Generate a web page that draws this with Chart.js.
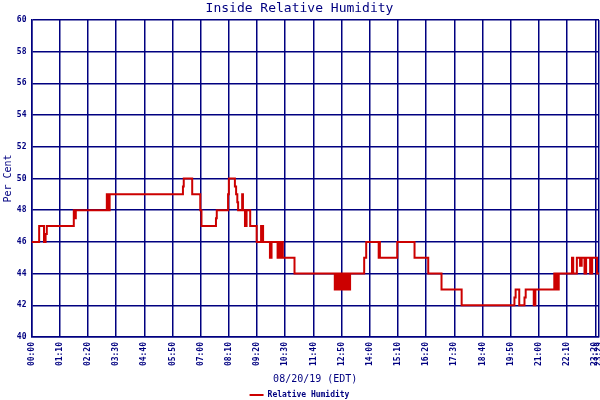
<!DOCTYPE html>
<html><head><meta charset="utf-8">
<script src="https://cdn.jsdelivr.net/npm/chart.js@4/dist/chart.umd.min.js"></script>
<style>html,body{margin:0;padding:0;background:#fff;}canvas{display:block;}</style>
</head><body>
<canvas id="c" width="600" height="400"></canvas>
<script>
// minutes after midnight where the reading changes
const times = [0,19,31,35,38,105,108,110,187,189,191,192,194,376,378,399,419,422,458,460,488,490,505,508,511,513,523,525,530,532,533,534,543,559,570,575,592,594,595,596,611,614,619,621,624,653,753,756,760,763,766,767,771,773,774,776,777,780,783,786,788,791,826,831,862,864,865,908,951,985,1018,1068,1199,1202,1211,1224,1227,1247,1249,1250,1251,1298,1302,1304,1306,1309,1342,1345,1354,1362,1366,1373,1377,1387,1392,1404,1409];
const humidity = [46,47,46,46.5,47,48,47.5,48,49,48,49,48,49,49.5,50,49,48,47,47.5,48,49,50,49.5,49,48.5,48,49,48,47,48,47,48,47,46,47,46,45,46,45,46,45,46,45,46,45,44,43,44,43,44,43,44,43,44,43,44,43,44,43,44,43,44,45,46,45,46,45,46,45,44,43,42,42.5,43,42,42.5,43,42,43,42,43,44,43,44,43,44,45,44,45,44.5,45,44,45,44,45,44,44];
const xTickMinutes = [0,70,140,210,280,350,420,490,560,630,700,770,840,910,980,1050,1120,1190,1260,1330,1400,1409];
const yTickValues = [40,42,44,46,48,50,52,54,56,58,60];
const chartTitle = 'Inside Relative Humidity';
const xTitle = '08/20/19 (EDT)';
const yTitle = 'Per Cent';
const seriesLabel = 'Relative Humidity';

const NAVY = '#000080';
const RED = '#cc0000';
const MONO = 'DejaVu Sans Mono';
const PLOT_BOTTOM = 337;
const BOTTOM_PAD = -9;

function fmt(m){
  const h = Math.floor(m/60), mm = Math.round(m%60);
  return String(h).padStart(2,'0') + ':' + String(mm).padStart(2,'0');
}

const points = times.map((t,i)=>({x:t, y:humidity[i]}));

new Chart(document.getElementById('c').getContext('2d'), {
  type: 'line',
  data: { datasets: [{
    label: seriesLabel, data: points,
    borderColor: RED, backgroundColor: RED, borderWidth: 2,
    pointRadius: 0, stepped: 'before', fill: false, tension: 0
  }]},
  options: {
    responsive: false, animation: false, devicePixelRatio: 1,
    layout: { padding: { left: 0, right: 1, top: 0, bottom: BOTTOM_PAD } },
    plugins: {
      title: { display: true, text: chartTitle, color: NAVY,
        font: { family: MONO, size: 13, weight: 'normal' }, padding: { top: 1, bottom: 3.4 } },
      legend: { position: 'bottom',
        labels: { color: NAVY, font: { family: MONO, size: 8, weight: 'bold' },
          usePointStyle: true, pointStyle: 'line', pointStyleWidth: 14, boxHeight: 8, padding: 4 } },
      tooltip: { enabled: false }
    },
    scales: {
      x: {
        type: 'linear', min: 0, max: 1409,
        afterBuildTicks: (s) => { s.ticks = xTickMinutes.map(v => ({ value: v })); },
        afterFit: (s) => {
          s.paddingLeft = 0; s.paddingRight = 0;
          const lg = s.chart.legend;
          s.height = (s.chart.height - BOTTOM_PAD) - PLOT_BOTTOM - (lg ? lg.height : 0);
        },
        ticks: { autoSkip: false, minRotation: 90, maxRotation: 90, color: NAVY,
          font: { family: MONO, size: 8, weight: 'bold' }, padding: 5,
          callback: (v) => fmt(v) },
        grid: { color: NAVY, lineWidth: 1.5, drawTicks: false },
        border: { color: NAVY, width: 1.5 },
        title: { display: true, text: xTitle, color: NAVY,
          font: { family: MONO, size: 10 }, padding: { top: 0, bottom: 2 } }
      },
      y: {
        min: 40, max: 60,
        afterBuildTicks: (s) => { s.ticks = yTickValues.map(v => ({ value: v })); },
        afterFit: (s) => { s.width = 31.5; s.paddingTop = 0; s.paddingBottom = 0; },
        ticks: { color: NAVY, font: { family: MONO, size: 8, weight: 'bold' }, padding: 5 },
        grid: { color: NAVY, lineWidth: 1.5, drawTicks: false },
        border: { color: NAVY, width: 1.5 },
        title: { display: true, text: yTitle, color: NAVY,
          font: { family: MONO, size: 10 }, padding: { top: 2, bottom: 0 } }
      }
    }
  }
});
</script>
</body></html>
